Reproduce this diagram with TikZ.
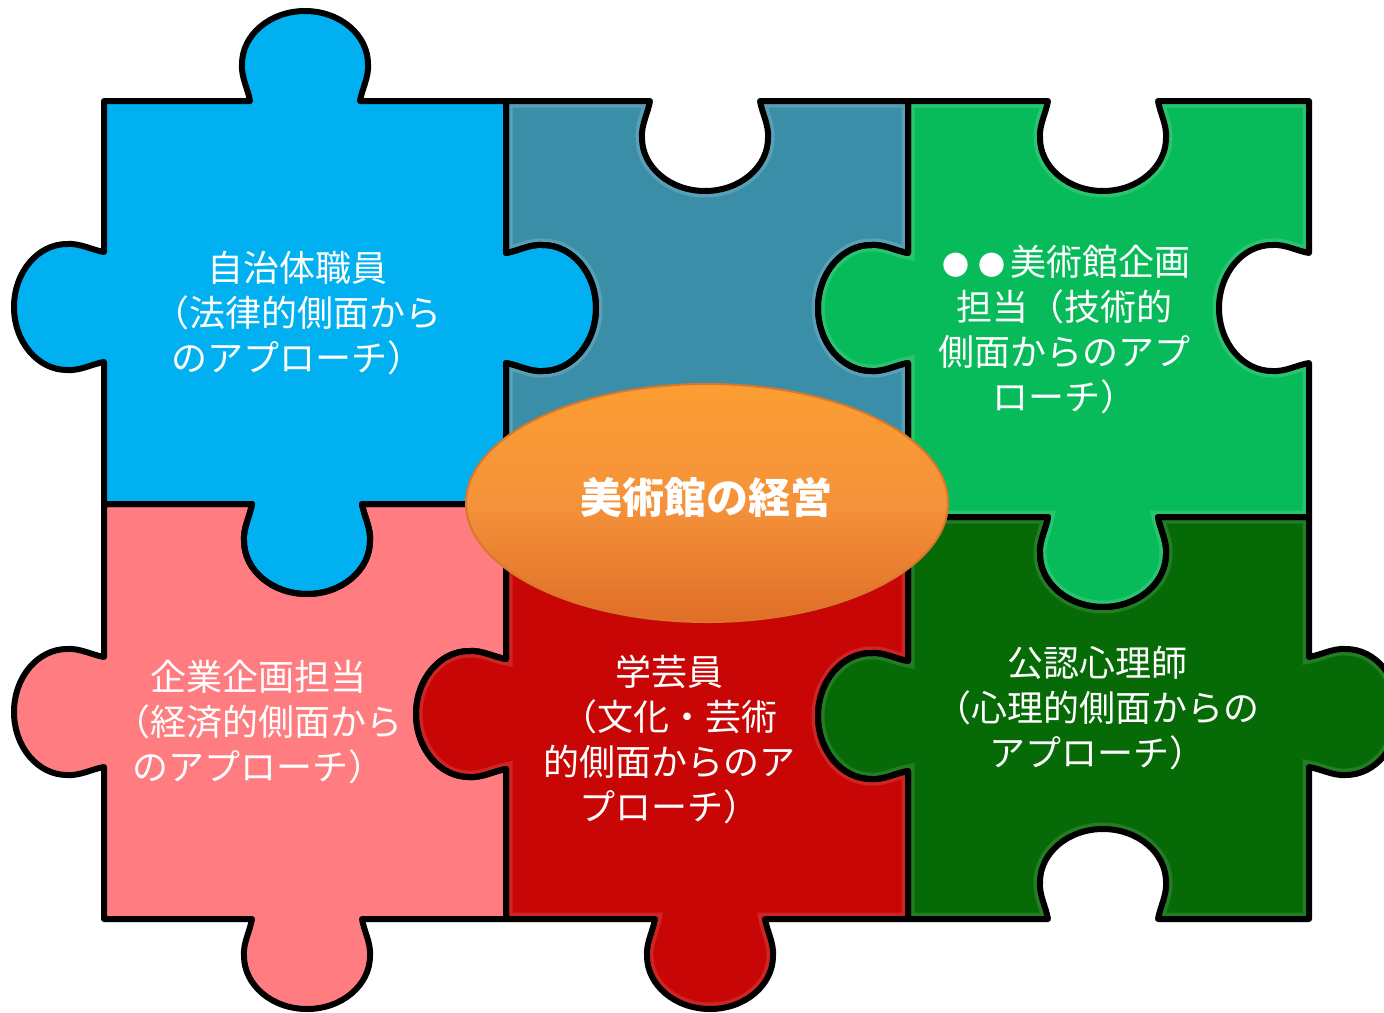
\documentclass[tikz,border=0pt]{standalone}
\usepackage{fontspec}
\newfontfamily\jfont{Noto Sans CJK JP}
\usetikzlibrary{shapes.geometric}

\definecolor{pblue}{HTML}{00B0F0}
\definecolor{pteal}{HTML}{3A8EA8}
\definecolor{pgreen}{HTML}{08BB5A}
\definecolor{ppink}{HTML}{FF7C80}
\definecolor{pred}{HTML}{C80606}
\definecolor{pdkgreen}{HTML}{066A06}
\definecolor{otop}{HTML}{FB9E32}
\definecolor{omid}{HTML}{F5923A}
\definecolor{obot}{HTML}{E06E28}
\definecolor{orim}{HTML}{D9782A}

\tikzset{
  % knob on a horizontal edge: centre x, edge y, travel direction, knob side (+1 down, -1 up)
  hk/.style n args={4}{insert path={
    -- ({#1-55*(#3)},{#2})
    .. controls ({#1-57*(#3)},{#2+12*(#4)}) and ({#1-64*(#3)},{#2+24*(#4)}) .. ({#1-63*(#3)},{#2+37*(#4)})
    .. controls ({#1-63*(#3)},{#2+66*(#4)}) and ({#1-35*(#3)},{#2+90*(#4)}) .. ({#1},{#2+90*(#4)})
    .. controls ({#1+35*(#3)},{#2+90*(#4)}) and ({#1+63*(#3)},{#2+66*(#4)}) .. ({#1+63*(#3)},{#2+37*(#4)})
    .. controls ({#1+64*(#3)},{#2+24*(#4)}) and ({#1+57*(#3)},{#2+12*(#4)}) .. ({#1+55*(#3)},{#2})
  }},
  % knob on a vertical edge: edge x, centre y, travel direction, knob side (+1 right, -1 left)
  vk/.style n args={4}{insert path={
    -- ({#1},{#2-55*(#3)})
    .. controls ({#1+12*(#4)},{#2-57*(#3)}) and ({#1+24*(#4)},{#2-64*(#3)}) .. ({#1+37*(#4)},{#2-63*(#3)})
    .. controls ({#1+66*(#4)},{#2-63*(#3)}) and ({#1+90*(#4)},{#2-35*(#3)}) .. ({#1+90*(#4)},{#2})
    .. controls ({#1+90*(#4)},{#2+35*(#3)}) and ({#1+66*(#4)},{#2+63*(#3)}) .. ({#1+37*(#4)},{#2+63*(#3)})
    .. controls ({#1+24*(#4)},{#2+64*(#3)}) and ({#1+12*(#4)},{#2+57*(#3)}) .. ({#1},{#2+55*(#3)})
  }},
  outline/.style={draw=black, line width=6pt, line join=round},
  bevel/.style={line width=13pt, draw opacity=0.4},
  label/.style={text=white, font=\jfont\fontsize{36}{45}\selectfont, align=center, inner sep=0pt},
}

% a small bullet in a full-width cell
\newcommand\smalldot{\makebox[36pt]{\fontsize{27}{27}\selectfont ●}}

% piece outlines
\def\bluepath{(104,101) [hk={305}{101}{1}{-1}] -- (506,101) [vk={506}{308}{1}{1}] -- (506,504)
  [hk={307}{504}{-1}{1}] -- (104,504) [vk={104}{307}{-1}{-1}] -- cycle}
\def\tealpath{(506,101) [hk={705}{101}{1}{1}] -- (908,101) [vk={908}{308}{1}{-1}] -- (908,512)
  -- (506,512) [vk={506}{308}{-1}{1}] -- cycle}
\def\greenpath{(908,101) [hk={1103}{101}{1}{1}] -- (1309,101) [vk={1309}{308}{1}{-1}] -- (1309,517)
  [hk={1103}{517}{-1}{1}] -- (908,517) [vk={908}{308}{-1}{-1}] -- cycle}
\def\pinkpath{(104,504) [hk={307}{504}{1}{1}] -- (506,504) [vk={506}{714}{1}{-1}] -- (506,919)
  [hk={307}{919}{-1}{1}] -- (104,919) [vk={104}{712}{-1}{-1}] -- cycle}
\def\redpath{(506,510) -- (908,510) [vk={908}{716}{1}{-1}] -- (908,919)
  [hk={710}{919}{-1}{1}] -- (506,919) [vk={506}{714}{-1}{-1}] -- cycle}
\def\dkgreenpath{(908,517) [hk={1103}{517}{1}{1}] -- (1309,517) [vk={1309}{712}{1}{1}] -- (1309,919)
  [hk={1103}{919}{-1}{-1}] -- (908,919) [vk={908}{716}{-1}{-1}] -- cycle}

\begin{document}
\begin{tikzpicture}[x=1pt,y=-1pt]
  \useasboundingbox (0,0) rectangle (1384,1012);
  \clip (0,0) rectangle (1384,1012);

  % fills
  \fill[pblue] \bluepath;
  \fill[pteal] \tealpath;
  \fill[pgreen] \greenpath;
  \fill[ppink] \pinkpath;
  \fill[pred] \redpath;
  \fill[pdkgreen] \dkgreenpath;

  % raised rims on the bevelled pieces
  \begin{scope}\clip \tealpath; \draw[bevel, pteal!60!white] \tealpath; \end{scope}
  \begin{scope}\clip \greenpath; \draw[bevel, pgreen!65!white] \greenpath; \end{scope}
  \begin{scope}\clip \redpath; \draw[bevel, pred!70!white] \redpath; \end{scope}
  \begin{scope}\clip \dkgreenpath; \draw[bevel, pdkgreen!70!white] \dkgreenpath; \end{scope}

  % outlines
  \draw[outline] \bluepath;
  \draw[outline] \tealpath;
  \draw[outline] \greenpath;
  \draw[outline] \pinkpath;
  \draw[outline] \redpath;
  \draw[outline] \dkgreenpath;

  % piece labels
  \node[label] (gov) at (297,313) {自治体職員\\（法律的側面から\\のアプローチ）};
  \node[label] (plan) at (1064,330) {\smalldot\smalldot 美術館企画\\担当（技術的\\側面からのアプ\\ローチ）};
  \node[label] (corp) at (258,722) {企業企画担当\\（経済的側面から\\のアプローチ）};
  \node[label] (cur) at (669,740) {学芸員\\（文化・芸術\\的側面からのア\\プローチ）};
  \node[label] (psy) at (1097,708) {公認心理師\\（心理的側面からの\\アプローチ）};

  % centre ellipse with its title
  \node[ellipse, minimum width=482pt, minimum height=238pt, inner sep=0pt,
        top color=otop, bottom color=obot, middle color=omid,
        draw=orim, line width=2pt] (core) at (707,503) {};
  \node[text=white, inner sep=0pt, font=\jfont\bfseries\fontsize{42}{50}\selectfont]
    (title) at (706,497) {美術館の経営};
\end{tikzpicture}
\end{document}
